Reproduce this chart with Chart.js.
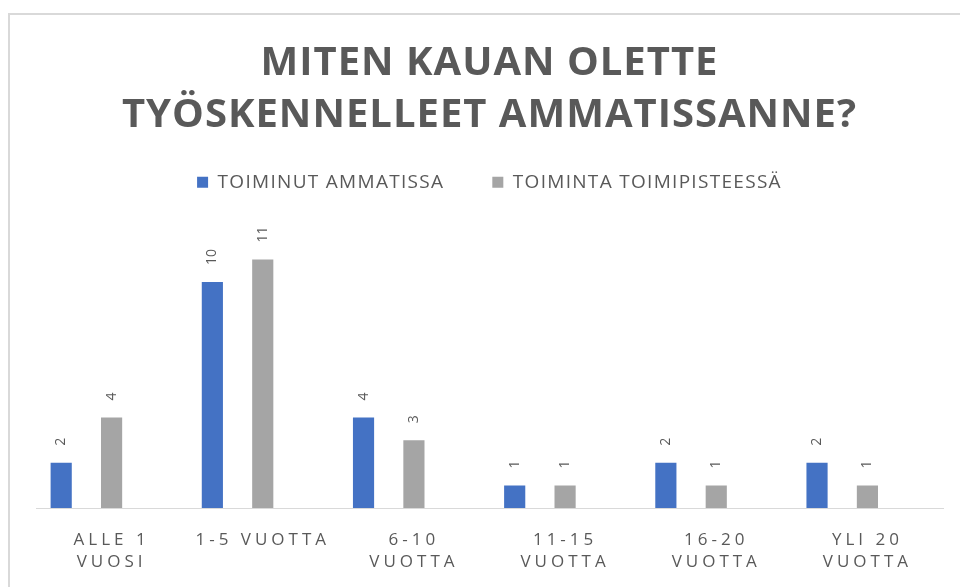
<!DOCTYPE html>
<html>
<head>
<meta charset="utf-8">
<script src="https://cdn.jsdelivr.net/npm/chart.js@4.4.0/dist/chart.umd.min.js"></script>
<style>
  html, body { margin: 0; padding: 0; background: #fff; }
  #wrap { position: relative; width: 960px; height: 587px; overflow: hidden; }
  #frame { position: absolute; left: 8px; top: 13px; width: 990px; height: 600px;
           border-left: 2px solid #d9d9d9; border-top: 2px solid #d9d9d9; }
  canvas { position: absolute; left: 0; top: 0; }
</style>
</head>
<body>
<div id="wrap">
  <div id="frame"></div>
  <canvas id="chart" width="960" height="587"></canvas>
</div>
<script>
// data
var categories = [['ALLE 1', 'VUOSI'], '1-5 VUOTTA', ['6-10', 'VUOTTA'], ['11-15', 'VUOTTA'], ['16-20', 'VUOTTA'], ['YLI 20', 'VUOTTA']];
var seriesNames = ['TOIMINUT AMMATISSA', 'TOIMINTA TOIMIPISTEESSÄ'];
var toiminutAmmatissa = [2, 10, 4, 1, 2, 2];
var toimintaToimipisteessa = [4, 11, 3, 1, 1, 1];
// the original sheet has a third, empty column in every group
var emptySeries = [null, null, null, null, null, null];
var titleLines = ['MITEN KAUAN OLETTE', 'TYÖSKENNELLEET AMMATISSANNE?'];

var textGray = '#595959';

// wrap a method so the text it draws/measures gets letter spacing
function spaced(obj, method, px) {
    var orig = obj[method];
    obj[method] = function() {
        var ctx = this.ctx;
        var prev = ctx.letterSpacing;
        ctx.letterSpacing = px;
        var r = orig.apply(this, arguments);
        ctx.letterSpacing = prev;
        return r;
    };
}

var letterSpacing = {
    id: 'letterSpacing',
    beforeDraw: function(chart) {
        if (chart._spaced) return;
        spaced(chart.titleBlock, 'draw', '1px');
        spaced(chart.scales.x, 'drawLabels', '4px');
        chart._spaced = true;
    }
};

// legend: spaced text and extra room underneath
var legendTweaks = {
    id: 'legendTweaks',
    beforeInit: function(chart) {
        var fit = chart.legend.fit;
        chart.legend.fit = function() {
            fit.call(this);
            this.height += 35;
        };
        spaced(chart.legend, 'fit', '1.3px');
        spaced(chart.legend, 'draw', '1.3px');
    }
};

// rotated value labels above the bars
var barValueLabels = {
    id: 'barValueLabels',
    afterDatasetsDraw: function(chart) {
        var ctx = chart.ctx;
        ctx.save();
        ctx.font = '14px "Open Sans"';
        ctx.fillStyle = textGray;
        ctx.textAlign = 'left';
        ctx.textBaseline = 'middle';
        chart.data.datasets.forEach(function(ds, i) {
            var meta = chart.getDatasetMeta(i);
            meta.data.forEach(function(bar, j) {
                if (ds.data[j] == null) return;
                ctx.save();
                ctx.translate(bar.x, bar.y - 17);
                ctx.rotate(-Math.PI / 2);
                ctx.fillText(String(ds.data[j]), 0, 0);
                ctx.restore();
            });
        });
        ctx.restore();
    }
};

var chart = new Chart(document.getElementById('chart'), {
    type: 'bar',
    data: {
        labels: categories,
        datasets: [{
            label: seriesNames[0],
            data: toiminutAmmatissa,
            backgroundColor: '#4472C4',
            categoryPercentage: 1,
            barPercentage: 0.42
        }, {
            label: seriesNames[1],
            data: toimintaToimipisteessa,
            backgroundColor: '#A5A5A5',
            categoryPercentage: 1,
            barPercentage: 0.42
        }, {
            label: '',
            data: emptySeries,
            backgroundColor: '#FFC000',
            categoryPercentage: 1,
            barPercentage: 0.42
        }]
    },
    options: {
        responsive: false,
        animation: false,
        layout: { padding: { left: 36, right: 17, top: 0, bottom: 1 } },
        plugins: {
            title: {
                display: true,
                text: titleLines,
                color: textGray,
                font: { family: 'Open Sans', size: 40, weight: 'bold', lineHeight: 1.31 },
                padding: { top: 37, bottom: -17 }
            },
            legend: {
                position: 'top',
                labels: {
                    color: textGray,
                    font: { family: 'Open Sans', size: 19 },
                    boxWidth: 11,
                    boxHeight: 11,
                    padding: 48,
                    filter: function(item) { return item.text !== ''; }
                }
            },
            tooltip: { enabled: false }
        },
        scales: {
            x: {
                grid: { display: false },
                border: { display: true, color: '#d9d9d9', width: 1 },
                ticks: {
                    color: textGray,
                    font: { family: 'Open Sans', size: 17, lineHeight: 22 / 17 },
                    padding: 13,
                    maxRotation: 0,
                    autoSkip: false
                }
            },
            y: { display: false, min: 0, max: 12 }
        }
    },
    plugins: [legendTweaks, letterSpacing, barValueLabels]
});
</script>
</body>
</html>
